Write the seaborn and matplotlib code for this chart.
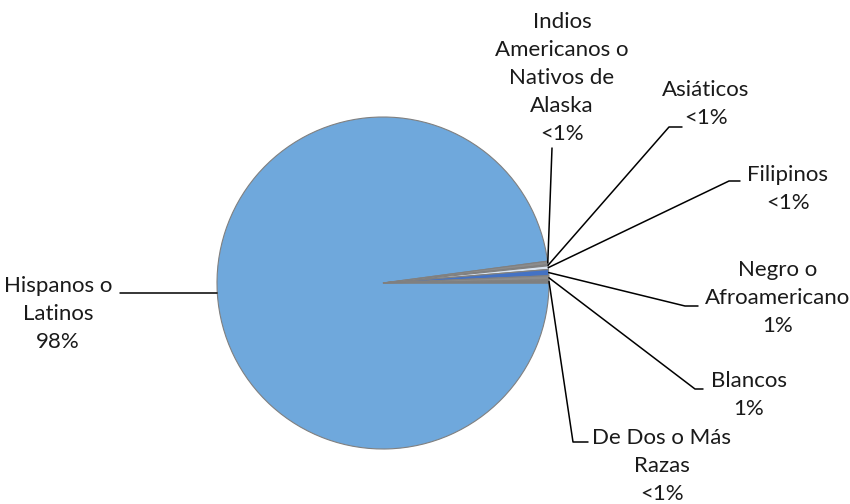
import numpy as np
import seaborn as sns
import matplotlib.pyplot as plt

# Datos
grupos = ['Hispanos o\nLatinos', 'Indios\nAmericanos o\nNativos de\nAlaska', 'Asiáticos', 'Filipinos',
          'Negro o\nAfroamericano', 'Blancos', 'De Dos o Más\nRazas']
porcentajes = [97.9, 0.35, 0.1, 0.35, 0.6, 0.4, 0.3]
etiquetas_pct = ['98%', '<1%', '<1%', '<1%', '1%', '1%', '<1%']
colores = ['#6FA8DC', '#8C8C8C', '#3F5FA8', '#DCE6F2', '#4472C4', '#8C8C8C', '#7F7F7F']

sns.set_theme(style='white')
plt.rcParams['font.family'] = ['Lato', 'DejaVu Sans']

H = 504
fig = plt.figure(figsize=(8.5, 5.04), dpi=100)
ax = fig.add_axes([0, 0, 1, 1])

cx, cy, r = 383, H - 283, 166
wedges, _ = ax.pie(porcentajes, colors=colores, startangle=0, counterclock=False,
                   center=(cx, cy), radius=r, frame=True,
                   wedgeprops=dict(edgecolor='#808080', linewidth=0.8))
ax.set_xlim(0, 850)
ax.set_ylim(0, H)
ax.set_aspect('equal')
ax.axis('off')

# posiciones de etiquetas (pixeles) y codo de la línea guía
pos_texto = [(58, 314), (562, 78), (706, 104), (788, 189), (778, 298), (749, 395), (662, 466)]
codos = [[(120, 293)], [(552, 148)], [(682, 127), (669, 127)], [(740, 181), (729, 181)],
         [(698, 306), (685, 306)], [(703, 389), (695, 389)], [(588, 442), (573, 442)]]

for w, g, p, (tx, ty), codo in zip(wedges, grupos, etiquetas_pct, pos_texto, codos):
    ang = np.deg2rad((w.theta1 + w.theta2) / 2)
    ex, ey = cx + r * np.cos(ang), cy + r * np.sin(ang)
    if g.startswith('Hispanos'):
        ex, ey = cx - r, H - 293
    pts = [(x, H - y) for x, y in codo] + [(ex, ey)]
    xs, ys = zip(*pts)
    ax.plot(xs, ys, color='black', linewidth=1.1)
    ax.text(tx, H - ty, g + '\n' + p, ha='center', va='center', fontsize=16,
            color='#1a1a1a', linespacing=1.5)

plt.savefig('out.png', dpi=100)
